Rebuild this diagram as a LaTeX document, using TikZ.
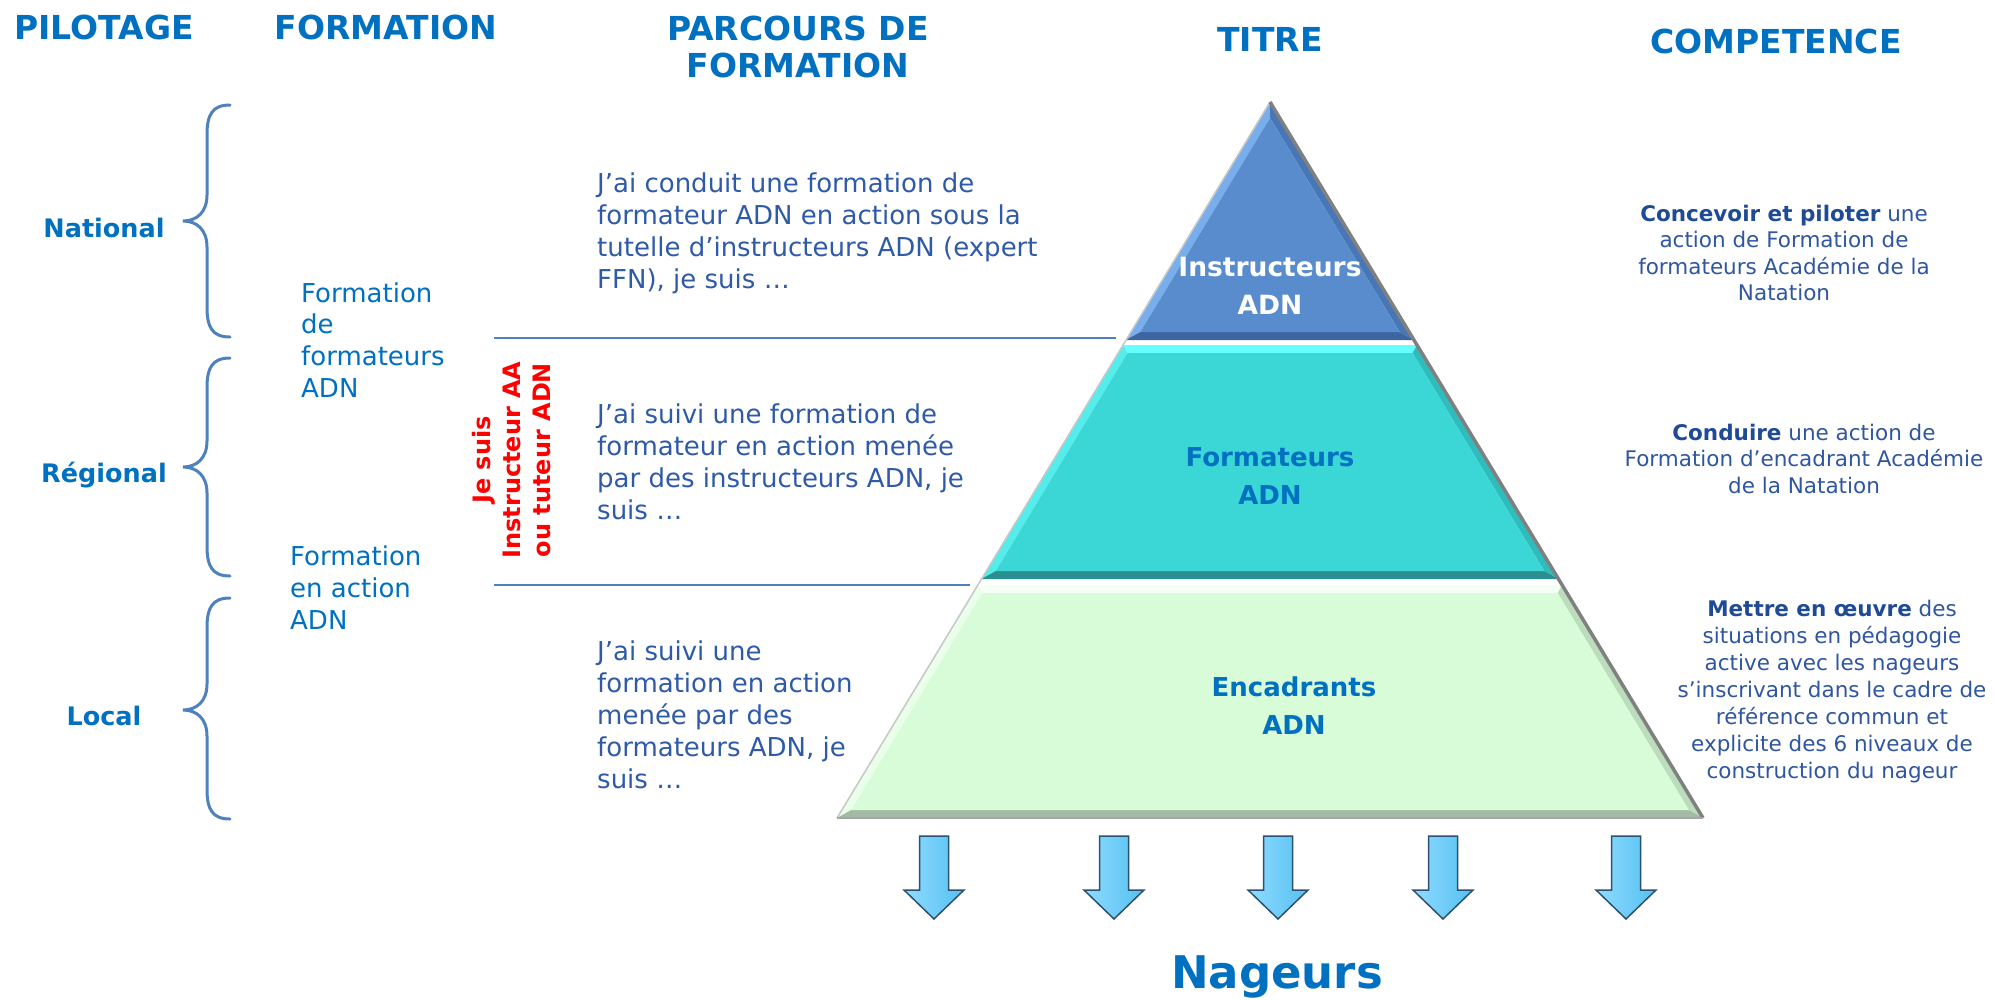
\documentclass[tikz,border=0pt]{standalone}
\usepackage{fontspec}
\setmainfont{DejaVu Sans}
\usetikzlibrary{calc}
\definecolor{hdr}{HTML}{0070C0}
\definecolor{para}{HTML}{2E5AA8}
\definecolor{comp}{HTML}{2F56A0}
\definecolor{compb}{HTML}{1F4A96}
\definecolor{linecol}{HTML}{4F81BD}
\definecolor{redtxt}{HTML}{FF0000}
% tier colours
\definecolor{taMain}{HTML}{588CCC}
\definecolor{taLeft}{HTML}{78AEEC}
\definecolor{taRight}{HTML}{4877B8}
\definecolor{taBot}{HTML}{3C66A2}
\definecolor{tbMain}{HTML}{3AD7D6}
\definecolor{tbTop}{HTML}{66FFFF}
\definecolor{tbLeft}{HTML}{55EDEC}
\definecolor{tbRight}{HTML}{2EBDBC}
\definecolor{tbBot}{HTML}{2A8F8F}
\definecolor{tcMain}{HTML}{D8FBD8}
\definecolor{tcTop}{HTML}{F6FFF6}
\definecolor{tcLeft}{HTML}{EAFFEA}
\definecolor{tcRight}{HTML}{BCDDBC}
\definecolor{tcBot}{HTML}{A3BBA3}
\definecolor{arrL}{HTML}{8FDBFF}
\definecolor{arrR}{HTML}{55C0F0}
\definecolor{arrD}{HTML}{2B5273}

\newcommand{\leftblock}[4]{\parbox[t]{#1}{\fontsize{#2}{#3}\selectfont\raggedright\leavevmode #4}}
\newcommand{\centerblock}[4]{\parbox[t]{#1}{\fontsize{#2}{#3}\selectfont\centering\leavevmode #4}}
\newcommand{\bracepath}[3]{%
  \draw[bracesty] (230,#1) .. controls (212,#1) and (207,#1+10) .. (207,#1+30)
    -- (207,#2-26) .. controls (207,#2-9) and (197,#2) .. (183,#2)
    .. controls (197,#2) and (207,#2+9) .. (207,#2+26)
    -- (207,#3-30) .. controls (207,#3-10) and (212,#3) .. (230,#3);}
\newcommand{\dnarrow}[1]{%
  \draw[arrowsty] (#1-14.5,836) -- (#1+14.5,836) -- (#1+14.5,890) -- (#1+30,890)
    -- (#1,919) -- (#1-30,890) -- (#1-14.5,890) -- cycle;}

\begin{document}
\begin{tikzpicture}[x=1pt,y=-1pt,
  hdrtxt/.style={font=\fontsize{33}{40}\selectfont\bfseries, text=hdr, inner sep=0, anchor=base},
  lvltxt/.style={font=\fontsize{25.5}{30}\selectfont\bfseries, text=hdr, inner sep=0, anchor=base},
  tiertxt/.style={font=\fontsize{26}{30}\selectfont\bfseries, inner sep=0, anchor=base},
  blockL/.style={inner sep=0, anchor=base west},
  blockC/.style={inner sep=0, anchor=base},
  sepline/.style={draw=linecol, line width=2.5pt},
  bracesty/.style={draw=linecol, line width=3pt, line cap=round},
  arrowsty/.style={left color=arrL, right color=arrR, draw=arrD, line width=1.5pt, line join=miter},
]
\useasboundingbox (0,0) rectangle (1995,999);
\fill[white] (0,0) rectangle (1995,999);

% ---------- headers ----------
\node[hdrtxt] (hpil) at (104,39) {PILOTAGE};
\node[hdrtxt] (hfor) at (386,39) {FORMATION};
\node[hdrtxt] (hpar1) at (798,40) {PARCOURS DE};
\node[hdrtxt] (hpar2) at (798,77) {FORMATION};
\node[hdrtxt] (htit) at (1270,51) {TITRE};
\node[hdrtxt] (hcomp) at (1776,53) {COMPETENCE};

% ---------- levels + braces ----------
\node[lvltxt] (nat) at (104,237) {National};
\node[lvltxt] (reg) at (104,482) {Régional};
\node[lvltxt] (loc) at (104,725) {Local};
\bracepath{105}{221}{337}
\bracepath{358}{467}{576}
\bracepath{598}{710}{819}

% ---------- formation column ----------
\node[blockL, text=hdr] (form1) at (301,302)
  {\leftblock{200pt}{26}{31.7}{Formation\\de\\formateurs\\ADN}};
\node[blockL, text=hdr] (form2) at (290,565)
  {\leftblock{200pt}{26}{32}{Formation\\en action\\ADN}};

% ---------- red rotated text ----------
\node[rotate=90, align=center, font=\fontsize{24}{30}\selectfont\bfseries, text=redtxt, inner sep=0]
  (jesuis) at (512,460) {Je suis\\Instructeur AA\\ou tuteur ADN};

% ---------- separator lines ----------
\coordinate (s1a) at (494,338); \coordinate (s1b) at (1116,338);
\coordinate (s2a) at (494,585); \coordinate (s2b) at (970,585);
\draw[sepline] (s1a) -- (s1b);
\draw[sepline] (s2a) -- (s2b);

% ---------- parcours paragraphs ----------
\node[blockL, text=para] (p1) at (597,192)
  {\leftblock{600pt}{26}{32}{J’ai conduit une formation de\\formateur ADN en action sous la\\tutelle d’instructeurs ADN (expert\\FFN), je suis …}};
\node[blockL, text=para] (p2) at (597,423)
  {\leftblock{600pt}{26}{32}{J’ai suivi une formation de\\formateur en action menée\\par des instructeurs ADN, je\\suis …}};
\node[blockL, text=para] (p3) at (597,660)
  {\leftblock{600pt}{26}{32}{J’ai suivi une\\formation en action\\menée par des\\formateurs ADN, je\\suis …}};

% ---------- pyramid ----------
\coordinate (A) at (1270,102);
\coordinate (L) at (837,818);
\coordinate (R) at (1703,818);

% tier 1 (triangle)
\coordinate (aBL) at ($(A)!0.3324!(L)$);
\coordinate (aBR) at ($(A)!0.3324!(R)$);
\coordinate (aI) at ($(A)+(0,16)$);
\coordinate (aIBL) at ($(aBL)+(14.2,-8)$);
\coordinate (aIBR) at ($(aBR)+(-14.2,-8)$);
\fill[taLeft] (A) -- (aI) -- (aIBL) -- (aBL) -- cycle;
\fill[taRight] (A) -- (aBR) -- (aIBR) -- (aI) -- cycle;
\fill[taBot] (aBL) -- (aIBL) -- (aIBR) -- (aBR) -- cycle;
\fill[taMain] (aI) -- (aIBR) -- (aIBL) -- cycle;

% tier 2
\coordinate (bTL) at ($(A)!0.3394!(L)$);
\coordinate (bTR) at ($(A)!0.3394!(R)$);
\coordinate (bBL) at ($(A)!0.6662!(L)$);
\coordinate (bBR) at ($(A)!0.6662!(R)$);
\coordinate (bITL) at ($(bTL)+(4.5,8)$);
\coordinate (bITR) at ($(bTR)+(-4.5,8)$);
\coordinate (bIBL) at ($(bBL)+(14.2,-8)$);
\coordinate (bIBR) at ($(bBR)+(-14.2,-8)$);
\fill[tbTop] (bTL) -- (bTR) -- (bITR) -- (bITL) -- cycle;
\fill[tbLeft] (bTL) -- (bITL) -- (bIBL) -- (bBL) -- cycle;
\fill[tbRight] (bTR) -- (bBR) -- (bIBR) -- (bITR) -- cycle;
\fill[tbBot] (bBL) -- (bIBL) -- (bIBR) -- (bBR) -- cycle;
\fill[tbMain] (bITL) -- (bITR) -- (bIBR) -- (bIBL) -- cycle;

% tier 3
\coordinate (cTL) at ($(A)!0.6746!(L)$);
\coordinate (cTR) at ($(A)!0.6746!(R)$);
\coordinate (cBL) at (L);
\coordinate (cBR) at (R);
\coordinate (cITL) at ($(cTL)+(4.5,8)$);
\coordinate (cITR) at ($(cTR)+(-4.5,8)$);
\coordinate (cIBL) at ($(cBL)+(14.2,-8)$);
\coordinate (cIBR) at ($(cBR)+(-14.2,-8)$);
\fill[tcTop] (cTL) -- (cTR) -- (cITR) -- (cITL) -- cycle;
\fill[tcLeft] (cTL) -- (cITL) -- (cIBL) -- (cBL) -- cycle;
\fill[tcRight] (cTR) -- (cBR) -- (cIBR) -- (cITR) -- cycle;
\fill[tcBot] (cBL) -- (cIBL) -- (cIBR) -- (cBR) -- cycle;
\fill[tcMain] (cITL) -- (cITR) -- (cIBR) -- (cIBL) -- cycle;

% pyramid edges
\draw[line width=1.5pt, black!22] (A) -- (L);
\draw[line width=3.5pt, black!50, xshift=2pt] (A) -- (R);
\draw[line width=2pt, black!35, yshift=1pt] (L) -- (R);

% tier labels
\node[tiertxt, text=white, font=\fontsize{26.5}{30}\selectfont\bfseries] (ti1) at (1270,276) {Instructeurs};
\node[tiertxt, text=white, font=\fontsize{26.5}{30}\selectfont\bfseries] (ti2) at (1270,314) {ADN};
\node[tiertxt, text=hdr] (tf1) at (1270,466) {Formateurs};
\node[tiertxt, text=hdr] (tf2) at (1270,504) {ADN};
\node[tiertxt, text=hdr] (te1) at (1294,696) {Encadrants};
\node[tiertxt, text=hdr] (te2) at (1294,734) {ADN};

% ---------- competence column ----------
\node[blockC, text=comp] (c1) at (1784,221)
  {\centerblock{420pt}{21.5}{26.5}{{\color{compb}\bfseries Concevoir et piloter} une\\action de Formation de\\formateurs Académie de la\\Natation}};
\node[blockC, text=comp] (c2) at (1804,440)
  {\centerblock{420pt}{21.5}{26.5}{{\color{compb}\bfseries Conduire} une action de\\Formation d’encadrant Académie\\de la Natation}};
\node[blockC, text=comp] (c3) at (1832,616)
  {\centerblock{420pt}{21.5}{27}{{\color{compb}\bfseries Mettre en œuvre} des\\situations en pédagogie\\active avec les nageurs\\s’inscrivant dans le cadre de\\référence commun et\\explicite des 6 niveaux de\\construction du nageur}};

% ---------- arrows ----------
\dnarrow{934}
\dnarrow{1114}
\dnarrow{1278}
\dnarrow{1443}
\dnarrow{1626}

\node[font=\fontsize{45}{50}\selectfont\bfseries, text=hdr, inner sep=0, anchor=base] (nag) at (1277,988) {Nageurs};
\end{tikzpicture}
\end{document}
